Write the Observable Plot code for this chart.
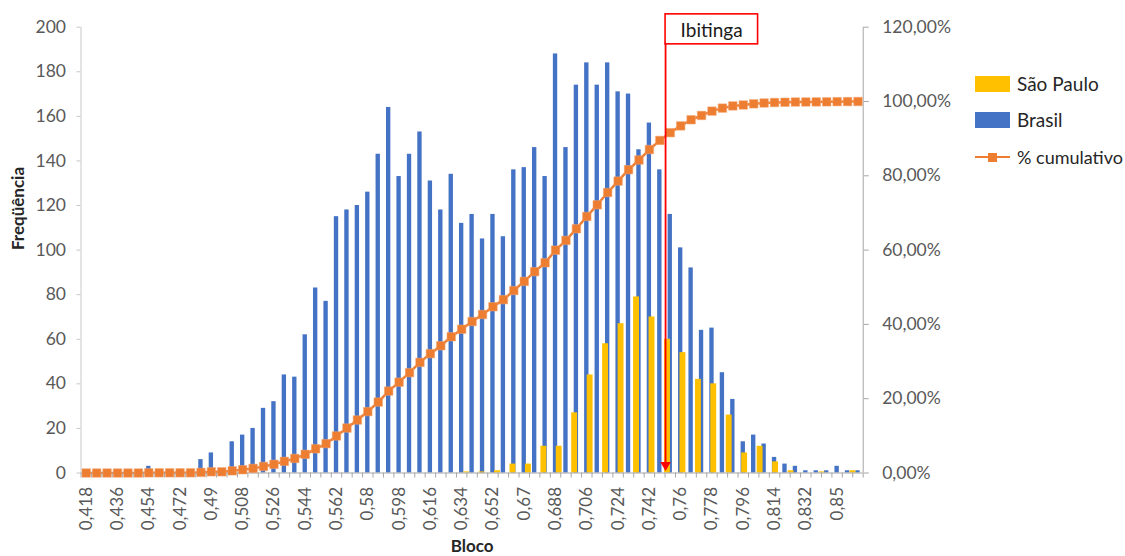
<!DOCTYPE html>
<html><head><meta charset="utf-8">
<script src="https://cdn.jsdelivr.net/npm/d3@7"></script>
<script src="https://cdn.jsdelivr.net/npm/@observablehq/plot@0.6"></script>
<style>
body{margin:0;background:#fff;font-family:Lato,sans-serif;}
#wrap{position:relative;width:1125px;height:556px;overflow:hidden}
.lg{position:absolute;font-size:19px;color:#262626;line-height:22px;white-space:nowrap;font-family:Lato,sans-serif}
.key{position:absolute}
</style></head><body><div id="wrap"></div>
<script>
// Brasil: categories (Bloco) and frequencies
const bloco = [0.418,0.424,0.430,0.436,0.442,0.448,0.454,0.460,0.466,0.472,0.478,0.484,0.490,0.496,0.502,0.508,0.514,0.520,0.526,0.532,0.538,0.544,0.550,0.556,0.562,0.568,0.574,0.580,0.586,0.592,0.598,0.604,0.610,0.616,0.622,0.628,0.634,0.640,0.646,0.652,0.658,0.664,0.670,0.676,0.682,0.688,0.694,0.700,0.706,0.712,0.718,0.724,0.730,0.736,0.742,0.748,0.754,0.760,0.766,0.772,0.778,0.784,0.790,0.796,0.802,0.808,0.814,0.820,0.826,0.832,0.838,0.844,0.850,0.856,0.862];
const brasil = [0,0,0,0,0,0,3,0,0,0,0,6,9,0,14,17,20,29,32,44,43,62,83,77,115,118,120,126,143,164,133,143,153,131,118,134,112,116,105,116,106,136,137,146,133,188,146,174,184,174,184,171,170,145,157,136,116,101,92,64,65,45,33,14,17,13,7,4,3,1,1,1,3,1,1];
// % cumulativo (Brasil)
const cumulativo = [0,0,0,0,0,0,0.05,0.05,0.05,0.05,0.05,0.16,0.32,0.32,0.58,0.88,1.24,1.76,2.34,3.13,3.91,5.02,6.52,7.90,9.97,12.10,14.26,16.53,19.10,22.05,24.45,27.02,29.77,32.13,34.26,36.67,38.69,40.77,42.66,44.75,46.66,49.11,51.58,54.20,56.60,59.98,62.61,65.74,69.05,72.19,75.50,78.58,81.64,84.25,87.07,89.52,91.61,93.43,95.09,96.24,97.41,98.22,98.81,99.06,99.37,99.60,99.73,99.80,99.86,99.87,99.89,99.91,99.96,99.98,100];
// São Paulo: its own (secondary) category positions, in Bloco units, and frequencies
const spBloco = [0.6368,0.6457,0.6546,0.6635,0.6724,0.6813,0.6901,0.6990,0.7079,0.7168,0.7257,0.7346,0.7435,0.7524,0.7613,0.7702,0.7790,0.7879,0.7968,0.8057,0.8146,0.8235,0.8324,0.8413,0.8502,0.8591];
const saoPaulo = [0.5,0.5,1,4,4,12,12,27,44,58,67,79,70,60,54,42,40,26,9,12,5,1,0,0.5,0,1];
// axis ticks
const freqTicks = [0,20,40,60,80,100,120,140,160,180,200];
const pctTicks = [0,20,40,60,80,100,120];
const xLabels = bloco.filter((d,i)=>i%3===0);
// annotation
const ibitinga = {x:0.7513, label:"Ibitinga", yTop:193, yLabel:198.4};

const step = 0.006;
const x0 = bloco[0]-step/2, x1 = bloco[bloco.length-1]+step/2;
const bounds = bloco.map(d=>d-step/2).concat([x1]);
const Y2 = 200/120;
const comma = d => String(+d.toFixed(3)).replace(".", ",");

const brData = bloco.map((b,i)=>({b, v:brasil[i], p:cumulativo[i]}));
const spData = spBloco.map((b,i)=>({b, v:saoPaulo[i]}));

const axisGray = "#a6a6a6";
const plot = Plot.plot({
  width:1125, height:556,
  marginLeft:80.5, marginRight:262.3, marginTop:26.7, marginBottom:83.5,
  x:{type:"linear", domain:[x0,x1]},
  y:{domain:[0,200]},
  style:{fontFamily:"Lato, sans-serif", fontSize:"17.5px", color:"#595959", background:"#fff", overflow:"visible"},
  marks:[
    Plot.rect(brData, {x1:d=>d.b-0.00125, x2:d=>d.b+0.00125, y1:0, y2:"v", fill:"#4472C4"}),
    Plot.rect(spData, {x1:d=>d.b-0.0017, x2:d=>d.b+0.0017, y1:0, y2:"v", fill:"#FFC000"}),
    Plot.ruleY([0], {stroke:axisGray}),
    Plot.ruleX([x0], {stroke:"#c8c8c8"}),
    Plot.ruleX([x1], {stroke:axisGray}),
    Plot.line(brData, {x:"b", y:d=>d.p*Y2, stroke:"#ED7D31", strokeWidth:2.5}),
    Plot.dot(brData, {x:"b", y:d=>d.p*Y2, symbol:"square", r:4.8, fill:"#ED7D31", stroke:"#F4A46E", strokeWidth:0.5}),
    Plot.axisY({ticks:freqTicks, tickSize:4, tickPadding:11, label:null, stroke:"#c8c8c8"}),
    Plot.axisY({anchor:"right", ticks:pctTicks.map(d=>d*Y2), tickFormat:d=>(d/Y2).toFixed(2).replace(".", ",")+"%", tickSize:5, tickPadding:14, label:null, stroke:axisGray}),
    Plot.axisX({ticks:bounds, tickSize:5, tickFormat:()=> "", label:null, stroke:axisGray}),
    Plot.axisX({ticks:xLabels, tickSize:0, tickPadding:14, tickRotate:-90, tickFormat:comma, label:null, fontSize:17}),
    Plot.text(["Freqüência"], {frameAnchor:"left", dx:-62, rotate:-90, fontWeight:"bold", fontSize:17, fill:"#262626"}),
    Plot.text(["Bloco"], {frameAnchor:"bottom", dy:79, fontWeight:"bold", fontSize:17, fill:"#262626"}),
    Plot.link([ibitinga], {x1:"x", x2:"x", y1:"yTop", y2:()=>2.5, stroke:"#FF0000", strokeWidth:1.8}),
    Plot.dot([ibitinga], {x:"x", y:()=>3.6, symbol:"triangle2", r:5, rotate:180, fill:"#FF0000"}),
    Plot.text([ibitinga], {x:"x", y:"yLabel", text:"label", dx:15, textAnchor:"start", fontSize:19, fill:"#1a1a1a"})
  ]
});
const wrap = document.getElementById("wrap");
wrap.appendChild(plot);

// box around the Ibitinga label
const svg = plot.tagName.toLowerCase()==="svg" ? plot : plot.querySelector("svg");
const svgRect = svg.getBoundingClientRect();
const lbl = [...svg.querySelectorAll("text")].find(t=>t.textContent===ibitinga.label);
if (lbl) {
  const r = lbl.getBoundingClientRect();
  const left = plot.scale("x").apply(ibitinga.x);
  const rect = document.createElementNS("http://www.w3.org/2000/svg","rect");
  const top = r.top - svgRect.top - 4, bottom = r.bottom - svgRect.top + 3;
  rect.setAttribute("x", left);
  rect.setAttribute("y", top);
  rect.setAttribute("width", (r.right - svgRect.left + 15) - left);
  rect.setAttribute("height", bottom - top);
  rect.setAttribute("fill", "#fff");
  rect.setAttribute("stroke", "#FF0000");
  rect.setAttribute("stroke-width", 1.6);
  let g = lbl; while (g.parentNode !== svg) g = g.parentNode;
  svg.insertBefore(rect, g);
}

// legend (right side)
const legend = [
  {label:"São Paulo", type:"bar", color:"#FFC000", cy:84, size:19},
  {label:"Brasil", type:"bar", color:"#4472C4", cy:120, size:19},
  {label:"% cumulativo", type:"line", color:"#ED7D31", cy:157, size:18}
];
for (const it of legend) {
  if (it.type==="bar") {
    const k = document.createElement("div"); k.className="key";
    Object.assign(k.style,{left:"975px", top:(it.cy-8)+"px", width:"35px", height:"16px", background:it.color});
    wrap.appendChild(k);
  } else {
    const l = document.createElement("div"); l.className="key";
    Object.assign(l.style,{left:"975px", top:(it.cy-1.25)+"px", width:"35px", height:"2.5px", background:it.color});
    wrap.appendChild(l);
    const s = document.createElement("div"); s.className="key";
    Object.assign(s.style,{left:"988px", top:(it.cy-4.5)+"px", width:"9px", height:"9px", background:it.color});
    wrap.appendChild(s);
  }
  const t = document.createElement("div"); t.className="lg"; t.textContent = it.label;
  Object.assign(t.style,{left:"1017px", top:(it.cy-11)+"px", fontSize: it.size+"px"});
  wrap.appendChild(t);
}
</script></body></html>
